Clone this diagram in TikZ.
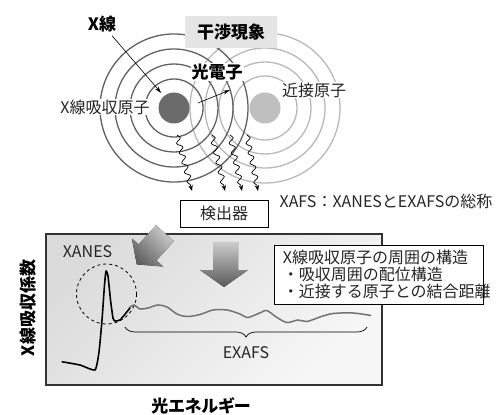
\documentclass[tikz,border=0pt]{standalone}
\usepackage{fontspec}
\setmainfont{Noto Sans CJK JP}
\newfontfamily\paltfont{Noto Sans CJK JP}[RawFeature=+palt]
\usetikzlibrary{arrows.meta,positioning,calc,decorations.pathmorphing,decorations.pathreplacing}

\tikzset{
  txt/.style={font=\fontsize{16}{17}\selectfont, text=black!85},
  boldtxt/.style={font=\fontsize{17}{18}\selectfont\bfseries, text=black},
  ringnear/.style={draw=black!28, line width=1.3pt},
  ringabs/.style={draw=black!62, line width=1.3pt},
  atom/.style={circle, minimum size=31pt, inner sep=0pt},
  ray/.style={decorate, decoration={snake, amplitude=2.6pt, segment length=10pt, post length=5pt},
    -{Stealth[length=6pt,width=4.5pt]}, line width=0.7pt},
  pointer/.style={-{Stealth[length=7pt,width=4pt]}, line width=0.6pt},
}

\begin{document}
\begin{tikzpicture}[x=1pt, y=-1pt]
  \useasboundingbox (0,0) rectangle (502,414);

  % spectrum panel
  \draw[draw=black!80, line width=1.1pt, top color=black!14, bottom color=black!3, shading angle=45]
    (46,234) rectangle (382,385);

  % neighbouring atom and its waves
  \foreach \r in {32,46,60,75}
    \draw[ringnear] (265,108) circle[radius=\r];
  \node[atom, fill=black!25] (neighbour) at (265,108) {};

  % absorbing atom and its waves
  \foreach \r in {29,44,59,74}
    \draw[ringabs] (174,108) circle[radius=\r];
  \node[atom, fill=black!58] (absorber) at (174,108) {};

  % labels around the atoms
  \node[boldtxt] (xray) at (102,24) {X線};
  \node[boldtxt, fill=black!10, minimum width=92pt, minimum height=32pt] (interf) at (231,32) {干渉現象};
  \node[boldtxt, fill=white, inner sep=1pt] (photo) at (217,72) {光電子};
  \node[txt, fill=white, inner sep=1pt] (abslabel) at (105,107) {X線吸収原子};
  \node[txt, fill=white, inner sep=1pt] (nearlabel) at (314,90) {近接原子};

  \draw[pointer, shorten >=4pt] (xray) -- (absorber);
  \coordinate (pe0) at (198,103);
  \coordinate (pe1) at (230,90);
  \draw[pointer] (pe0) -- (pe1);

  % detector and scattered rays
  \node[txt, draw=black, fill=white, line width=0.8pt, minimum width=88pt, minimum height=27pt] (det) at (224,213.5) {検出器};
  \node[txt, anchor=west] (xafs) at (276,201) {XAFS：XANESとEXAFSの総称};

  \foreach \i/\sx/\ex in {1/177/192, 2/212/225, 3/230/242, 4/247/258} {
    \coordinate (r\i) at (\sx,135);
    \coordinate (e\i) at (\ex,191);
    \draw[ray] (r\i) -- (e\i);
  }

  % fat arrows
  \fill[top color=black!20, bottom color=black!62, shading angle=-45]
    (136.8,264.4) -- (163.1,266.5) -- (156.4,260.5) -- (173.8,241.2)
    -- (156.0,225.2) -- (138.6,244.5) -- (131.9,238.5) -- cycle;
  \fill[top color=black!20, bottom color=black!65]
    (213,242) -- (238,242) -- (238,270) -- (248,270) -- (224,287)
    -- (200,270) -- (213,270) -- cycle;

  % spectrum
  \node[txt] (xanes) at (87.5,251.5) {XANES};
  \draw[dashed, line width=0.8pt] (106.5,294) circle[radius=30];
  \draw[black!55, line width=1.5pt] plot[smooth, tension=0.5] coordinates {
    (129,308) (134,305) (140,309) (148,308) (158,305) (167,307) (177,314)
    (187,316.5) (200,314.5) (213,310) (227,310) (240,314) (247,317.5)
    (255,315) (262,312) (267,310.5) (277,317.5) (287,322.5) (298,320)
    (307,321.5) (320,317) (333,313.5) (353,313) (371,315.5)};
  \draw[black, line width=1.6pt, line join=round] plot[smooth, tension=0.3] coordinates {
    (61.7,361.7) (80,365) (95,370) (99,352) (102,320) (104.5,285) (106,271)
    (108,276) (110.5,300) (113,318) (115,321) (120,320) (126,313) (130,308)};
  \draw[line width=0.7pt, decorate, decoration={brace, mirror, amplitude=10pt}]
    (125,327) -- (367,327);
  \node[txt] (exafs) at (246,353) {EXAFS};

  % info box
  \node[txt, draw=black, fill=white, line width=0.8pt, anchor=north west, align=left,
    text width=192pt, inner xsep=8.5pt, minimum height=59pt] (info) at (274,245)
    {X線吸収原子の周囲の構造\\・吸収周囲の配位構造\\・近接する原子との結合距離};

  % axis titles
  \node[boldtxt, rotate=90] (ylab) at (28,308) {X線吸収係数};
  \node[boldtxt, font=\fontsize{17}{18}\paltfont\bfseries] (xlab) at (201,406) {光エネルギー};
\end{tikzpicture}
\end{document}
